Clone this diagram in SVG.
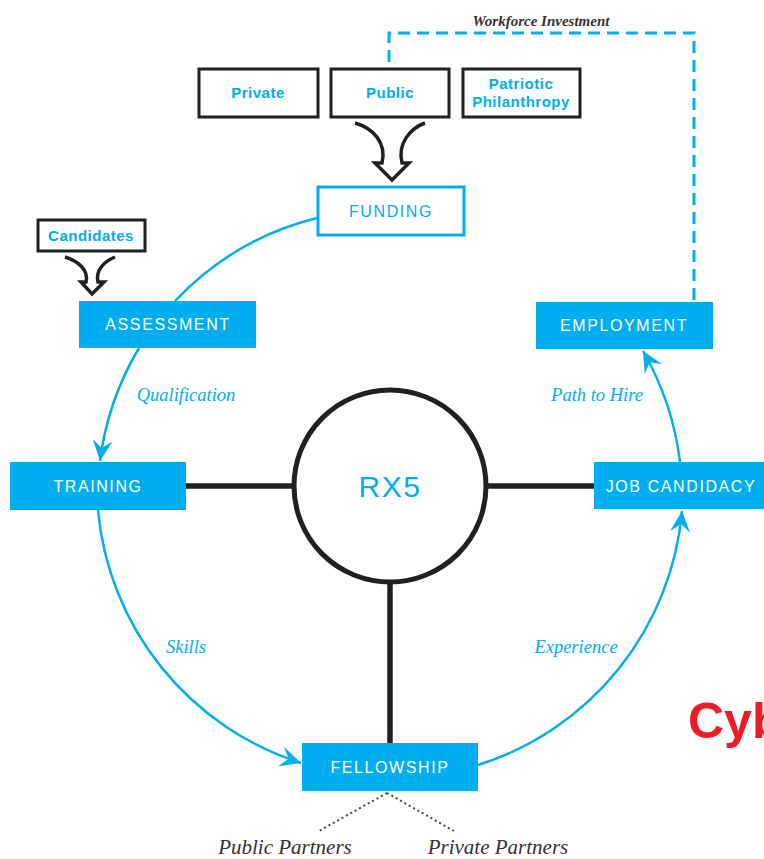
<svg xmlns="http://www.w3.org/2000/svg" width="764" height="859" viewBox="0 0 764 859">
<style>
.bluebox{fill:#00aeef;}
.wlabel{font-family:"Liberation Sans",Arial,sans-serif;font-size:16px;fill:#ffffff;letter-spacing:1.6px;text-anchor:middle;}
.src{fill:#ffffff;stroke:#231f20;stroke-width:3;}
.slabel{font-family:"Liberation Sans",Arial,sans-serif;font-size:15px;font-weight:bold;fill:#00aeef;letter-spacing:0.5px;text-anchor:middle;}
.flow{fill:none;stroke:#00aeef;stroke-width:2.5;marker-end:url(#barb);}
.hub{fill:none;stroke:#231f20;stroke-width:5.5;}
.ital{font-family:"Liberation Serif","Times New Roman",serif;font-style:italic;font-size:18.5px;fill:#00aeef;text-anchor:middle;}
.dark{font-family:"Liberation Serif","Times New Roman",serif;font-style:italic;fill:#333333;text-anchor:middle;}
.fork{fill:none;stroke:#231f20;stroke-width:3.5;stroke-linejoin:miter;}
</style>
<defs>
<marker id="barb" markerUnits="userSpaceOnUse" viewBox="-22 -11 23 22" markerWidth="23" markerHeight="22" refX="0" refY="0" orient="auto">
<path d="M0,0 L-21,-10 L-13,0 L-21,10 Z" fill="#00aeef"/>
</marker>
</defs>
<rect width="764" height="859" fill="#ffffff"/>

<g id="connectors">
<path class="fork" d="M355,123 C373,128 387,143 382,163 L375,163 L392,180 L409,163 L402,163 C397,143 411,128 425,123"/>
<path class="fork" d="M65,257 C78,261 89,270 86,282 L81,282 L92,294 L104,282 L98,282 C95,270 105,261 115,257"/>
<path d="M389,62 L389,33 L694,33 L694,302" fill="none" stroke="#00aeef" stroke-width="3" stroke-dasharray="12 7"/>
<path d="M317,218 A293,293 0 0 0 175,301" fill="none" stroke="#00aeef" stroke-width="2.5"/>
<path class="flow" d="M139,348 A293,293 0 0 0 100,461"/>
<path class="flow" d="M98,510 A293,293 0 0 0 301,763"/>
<path class="flow" d="M478,765 A293,293 0 0 0 682,511"/>
<path class="flow" d="M680,462 A293,293 0 0 0 643,351"/>
<line class="hub" x1="186" y1="486" x2="294" y2="486"/>
<line class="hub" x1="486" y1="486" x2="594" y2="486"/>
<line class="hub" x1="390" y1="582" x2="390" y2="743"/>
<path d="M387,793 L319,831 M387,793 L454,831" fill="none" stroke="#444444" stroke-width="2" stroke-dasharray="2 3"/>
<text class="dark" x="541" y="26" font-size="15" font-weight="bold">Workforce Investment</text>
<text class="ital" x="186" y="401">Qualification</text>
<text class="ital" x="186" y="653">Skills</text>
<text class="ital" x="576" y="653">Experience</text>
<text class="ital" x="597" y="401">Path to Hire</text>
</g>

<g id="private">
<rect class="src" x="199" y="69" width="119" height="48"/>
<text class="slabel" x="258" y="98">Private</text>
</g>
<g id="public">
<rect class="src" x="331" y="69" width="118" height="48"/>
<text class="slabel" x="390" y="98">Public</text>
</g>
<g id="patriotic">
<rect class="src" x="463" y="69" width="117" height="48"/>
<text class="slabel" x="521" y="89">Patriotic</text>
<text class="slabel" x="521" y="107">Philanthropy</text>
</g>
<g id="funding">
<rect x="318" y="187" width="146" height="48" fill="#ffffff" stroke="#00aeef" stroke-width="3"/>
<text class="wlabel" x="391" y="217" style="fill:#00aeef">FUNDING</text>
</g>
<g id="candidates">
<rect class="src" x="38" y="220" width="107" height="31"/>
<text class="slabel" x="91" y="241">Candidates</text>
</g>
<g id="assessment">
<rect class="bluebox" x="79" y="301" width="177" height="47"/>
<text class="wlabel" x="168" y="330">ASSESSMENT</text>
</g>
<g id="employment">
<rect class="bluebox" x="536" y="302" width="177" height="47"/>
<text class="wlabel" x="624" y="331">EMPLOYMENT</text>
</g>
<g id="training">
<rect class="bluebox" x="10" y="462" width="176" height="48"/>
<text class="wlabel" x="98" y="492">TRAINING</text>
</g>
<g id="jobcandidacy">
<rect class="bluebox" x="594" y="462" width="180" height="47"/>
<text class="wlabel" x="681" y="492">JOB CANDIDACY</text>
</g>
<g id="fellowship">
<rect class="bluebox" x="302" y="743" width="176" height="48"/>
<text class="wlabel" x="390" y="773">FELLOWSHIP</text>
</g>
<g id="rx5">
<circle cx="390" cy="486" r="96" fill="#ffffff" stroke="#231f20" stroke-width="5"/>
<text x="390" y="497" font-family="'Liberation Sans',Arial,sans-serif" font-size="30" fill="#00aeef" text-anchor="middle" letter-spacing="1.5">RX5</text>
</g>
<g id="partners">
<text class="dark" x="285" y="854" font-size="21">Public Partners</text>
<text class="dark" x="498" y="854" font-size="21">Private Partners</text>
</g>
<g id="cyb">
<text x="688" y="738" font-family="'Liberation Sans',Arial,sans-serif" font-size="50" font-weight="bold" fill="#ed1c24">Cyb</text>
</g>
</svg>
